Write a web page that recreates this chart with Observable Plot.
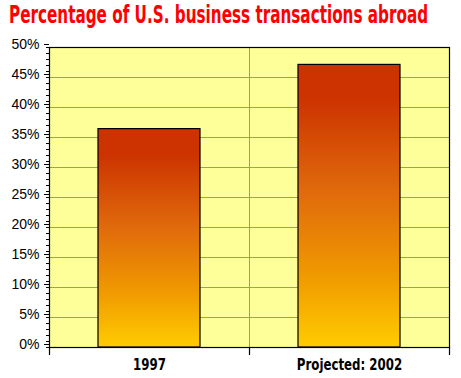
<!DOCTYPE html>
<html>
<head>
<meta charset="utf-8">
<script src="https://cdn.jsdelivr.net/npm/d3@7"></script>
<script src="https://cdn.jsdelivr.net/npm/@observablehq/plot@0.6"></script>
<style>
  html, body { margin: 0; padding: 0; background: #ffffff; }
  #title {
    height: 36px;
    line-height: 31px;
    padding-left: 9px;
    white-space: nowrap;
    overflow: hidden;
  }
  #title span {
    display: inline-block;
    font-family: "DejaVu Sans Condensed", "Liberation Sans", Arial, sans-serif;
    font-weight: bold;
    color: #ff0000;
    font-size: 24px;
    transform-origin: 0 50%;
  }
  #chart svg { display: block; }
</style>
</head>
<body>
<div id="title"><span>Percentage of U.S. business transactions abroad</span></div>
<div id="chart"></div>
<script>
// ---- data ----
const categories = ["1997", "Projected: 2002"];
const values = [36.4, 47.1];
const yTicks = [0, 5, 10, 15, 20, 25, 30, 35, 40, 45, 50];
const yMinorTicks = d3.range(0, 51, 1);
const categoryBounds = [-0.5, 0.5, 1.5];

const data = categories.map((c, i) => ({ i, category: c, value: values[i] }));

const chart = Plot.plot({
  width: 461,
  height: 342,
  marginTop: 11,
  marginBottom: 31,
  marginLeft: 49,
  marginRight: 12,
  style: { fontFamily: "'Liberation Sans', Arial, sans-serif", fontSize: "14px", background: "#ffffff", color: "#000000" },
  x: { type: "linear", domain: [-0.5, 1.5], label: null },
  y: { domain: [0, 50], label: null },
  marks: [
    Plot.frame({ fill: "#ffff99", stroke: "none" }),
    Plot.gridY(yTicks.filter(d => d > 0 && d < 50), { stroke: "#999999", strokeOpacity: 1, strokeWidth: 1 }),
    Plot.gridX([categoryBounds[1]], { stroke: "#999999", strokeOpacity: 1, strokeWidth: 1 }),
    Plot.rectY(data, {
      x1: d => d.i - 0.255,
      x2: d => d.i + 0.255,
      y: "value",
      fill: "url(#barGrad)",
      stroke: "#000000",
      strokeWidth: 1.2
    }),
    Plot.frame({ stroke: "#000000", strokeWidth: 1.2 }),
    Plot.axisY(yMinorTicks, { tickSize: 3, tickFormat: () => "", stroke: "#000", label: null }),
    Plot.axisY(yTicks, { tickSize: 5, tickPadding: 5, tickFormat: d => d + "%", dy: -3, fontSize: 14, stroke: "#000", label: null }),
    Plot.axisX(categoryBounds, { tickSize: 8, tickFormat: () => "", stroke: "#000", strokeWidth: 1.2, label: null }),
    Plot.axisX([0, 1], {
      tickSize: 0,
      tickPadding: 11,
      tickFormat: i => categories[i],
      fontWeight: "bold",
      fontFamily: "'DejaVu Sans Condensed', 'Liberation Sans', sans-serif",
      fontSize: 16,
      className: "xcat",
      label: null
    })
  ]
});

// gradient definition for bars (red at top → yellow at bottom)
const svgSel = d3.select(chart);
const defs = svgSel.insert("defs", ":first-child");
const grad = defs.append("linearGradient")
  .attr("id", "barGrad")
  .attr("x1", 0).attr("y1", 0).attr("x2", 0).attr("y2", 1);
[["0%", "#cc3300"], ["12%", "#cc3300"], ["45%", "#e06a0c"], ["75%", "#f09a00"], ["100%", "#ffcc00"]]
  .forEach(([o, c]) => grad.append("stop").attr("offset", o).attr("stop-color", c));

document.getElementById("chart").appendChild(chart);

// narrow the bold category labels (the reference uses a condensed face)
svgSel.selectAll("g[aria-label='x-axis tick label'] text").each(function () {
  const t = d3.select(this);
  const tr = t.attr("transform") || "";
  t.attr("transform", tr + " scale(0.82,1)");
});

// fit the title to the reference's width
const span = document.querySelector("#title span");
const w = span.getBoundingClientRect().width;
const target = 419;
if (w > 0) span.style.transform = `scaleX(${(target / w).toFixed(3)})`;
</script>
</body>
</html>
